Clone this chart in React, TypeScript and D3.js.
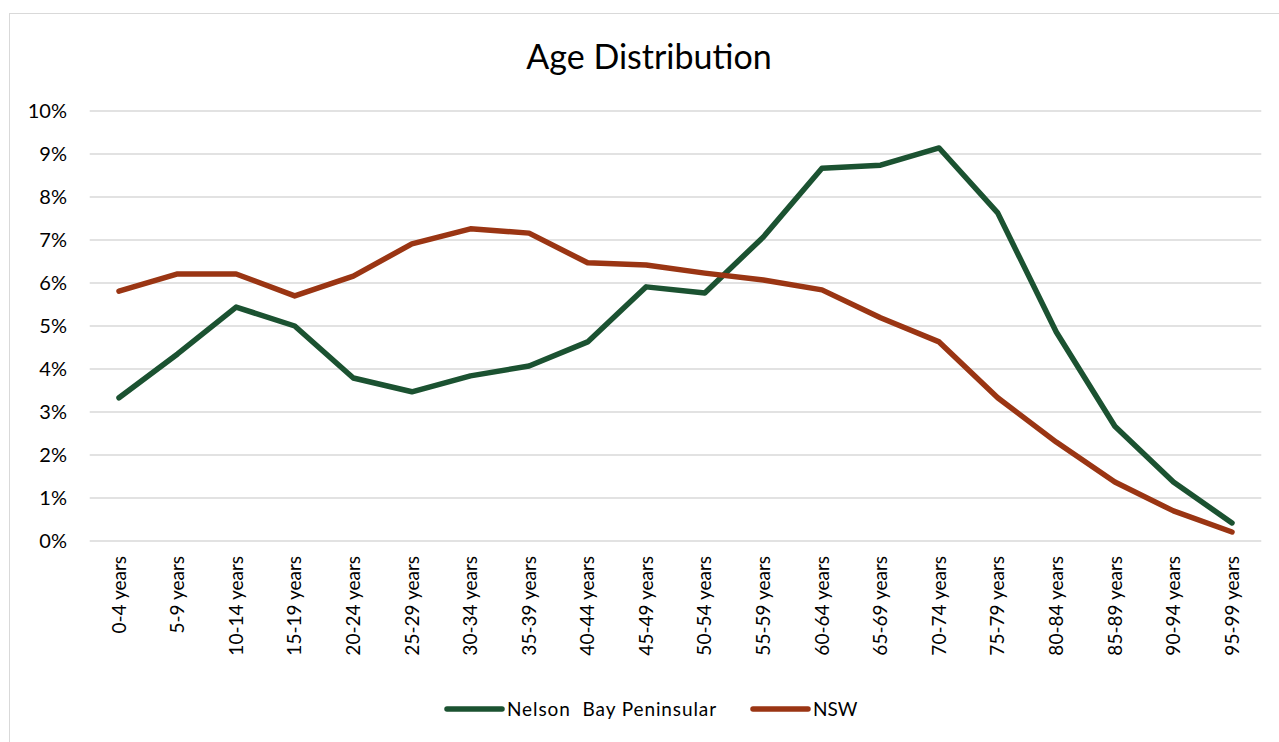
import React, { useEffect, useRef } from "react";
import * as d3 from "d3";

const categories = [
  "0-4 years", "5-9 years", "10-14 years", "15-19 years", "20-24 years",
  "25-29 years", "30-34 years", "35-39 years", "40-44 years", "45-49 years",
  "50-54 years", "55-59 years", "60-64 years", "65-69 years", "70-74 years",
  "75-79 years", "80-84 years", "85-89 years", "90-94 years", "95-99 years",
];
const nelsonBay = [3.33, 4.35, 5.44, 5.0, 3.79, 3.47, 3.84, 4.07, 4.63, 5.91, 5.77, 7.07, 8.67, 8.74, 9.14, 7.63, 4.86, 2.67, 1.37, 0.42];
const nsw = [5.81, 6.21, 6.21, 5.7, 6.16, 6.91, 7.26, 7.16, 6.47, 6.42, 6.23, 6.07, 5.84, 5.19, 4.63, 3.33, 2.3, 1.37, 0.7, 0.21];
const yTicks = [0, 1, 2, 3, 4, 5, 6, 7, 8, 9, 10];
const seriesNames = ["Nelson Bay Peninsular", "NSW"];
const colors = ["#1b5231", "#9a3513"];

const FONT = "Lato, 'Open Sans', sans-serif";

export default function App() {
  const ref = useRef<SVGSVGElement>(null);
  useEffect(() => {
    const svg = d3.select(ref.current);
    svg.selectAll("*").remove();
    const W = 1279, H = 742;
    const left = 89.7, right = 1261.3, top = 111, bottom = 541;
    const x = d3.scaleBand<string>().domain(categories).range([left, right]);
    const y = d3.scaleLinear().domain([0, 10]).range([bottom, top]);
    const cx = (c: string) => (x(c) as number) + x.bandwidth() / 2;

    svg.append("rect").attr("width", W).attr("height", H).attr("fill", "#fff");
    svg.append("rect").attr("x", 9.5).attr("y", 13.5).attr("width", W + 20).attr("height", H + 20)
      .attr("fill", "none").attr("stroke", "#d9d9d9").attr("stroke-width", 1);

    svg.append("text").attr("x", 649).attr("y", 69).attr("text-anchor", "middle")
      .attr("font-family", FONT).attr("font-size", 34).attr("fill", "#000").text("Age Distribution");

    const g = svg.append("g");
    g.selectAll("line.grid").data(yTicks).join("line").attr("class", "grid")
      .attr("x1", left).attr("x2", right).attr("y1", (d) => y(d)).attr("y2", (d) => y(d))
      .attr("stroke", "#d9d9d9").attr("stroke-width", 1.5);
    g.selectAll("text.ytick").data(yTicks).join("text").attr("class", "ytick")
      .attr("x", 67).attr("y", (d) => y(d)).attr("dy", "0.35em").attr("text-anchor", "end")
      .attr("font-family", FONT).attr("font-size", 20).attr("fill", "#000").text((d) => `${d}%`);

    g.selectAll("text.xtick").data(categories).join("text").attr("class", "xtick")
      .attr("transform", (d) => `translate(${cx(d)},${556}) rotate(-90)`)
      .attr("dy", "0.35em").attr("text-anchor", "end")
      .attr("font-family", FONT).attr("font-size", 19).attr("fill", "#000").text((d) => d);

    const line = d3.line<number>().x((_, i) => cx(categories[i])).y((d) => y(d));
    [nelsonBay, nsw].forEach((s, i) => {
      g.append("path").datum(s).attr("d", line).attr("fill", "none")
        .attr("stroke", colors[i]).attr("stroke-width", 5.5)
        .attr("stroke-linejoin", "round").attr("stroke-linecap", "round");
    });

    const legendX = [447, 753];
    seriesNames.forEach((n, i) => {
      g.append("line").attr("x1", legendX[i]).attr("x2", legendX[i] + 55).attr("y1", 709).attr("y2", 709)
        .attr("stroke", colors[i]).attr("stroke-width", 5.5).attr("stroke-linecap", "round");
      const t = g.append("text").attr("x", legendX[i] + 60).attr("y", 709).attr("dy", "0.35em")
        .attr("font-family", FONT).attr("font-size", 19).attr("fill", "#000");
      if (i === 0) {
        const sp = n.indexOf(" ");
        t.attr("letter-spacing", 0.9);
        t.append("tspan").text(n.slice(0, sp));
        t.append("tspan").attr("dx", 6).text(n.slice(sp));
      } else {
        t.text(n);
      }
    });
  }, []);
  return (
    <svg ref={ref} width={1279} height={742}
      style={{ position: "absolute", left: 0, top: 0, display: "block" }} />
  );
}
